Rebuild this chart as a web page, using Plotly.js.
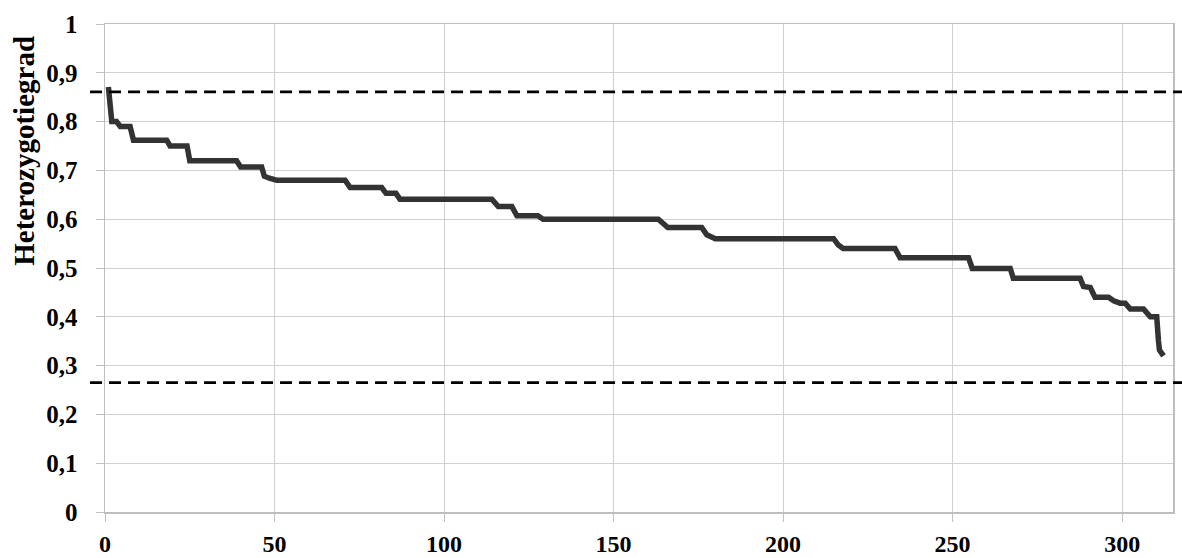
<!DOCTYPE html>
<html>
<head>
<meta charset="utf-8">
<script src="https://cdn.plot.ly/plotly-3.0.1.min.js"></script>
<style>
  html, body { margin: 0; padding: 0; background: #ffffff; }
  #chart { width: 1182px; height: 558px; }
</style>
</head>
<body>
<div id="chart"></div>
<script>
// Locus rank (x) and heterozygosity degree (y), vertices of the sorted curve
var rank = [1, 1.3, 1.6, 2, 3.4, 4.5, 7.4, 8.4, 18.2, 19.2, 24.2, 25.0, 38.8, 40.0, 46.2, 47.0, 48.5, 50.6,
            70.8, 72.3, 81.6, 82.9, 85.8, 87.0, 114.1, 116.0, 120.0, 121.5, 127.7, 129.2,
            163.2, 164.5, 166.0, 176.0, 177.5, 180.0, 214.9, 216.3, 217.7, 233.0, 234.5,
            254.7, 255.8, 267.0, 267.9, 287.6, 288.6, 290.6, 292.0, 296.0, 297.5, 299.4,
            300.9, 302.4, 306.3, 308.3, 310.2, 310.7, 311.0, 312.2];
var hetero = [0.871, 0.84, 0.815, 0.80, 0.80, 0.79, 0.79, 0.762, 0.762, 0.75, 0.75, 0.72, 0.72, 0.707, 0.707, 0.688, 0.684, 0.68,
              0.68, 0.665, 0.665, 0.653, 0.653, 0.641, 0.641, 0.626, 0.626, 0.607, 0.607, 0.60,
              0.60, 0.592, 0.583, 0.583, 0.568, 0.56, 0.56, 0.547, 0.54, 0.54, 0.521,
              0.521, 0.499, 0.499, 0.479, 0.479, 0.462, 0.46, 0.44, 0.44, 0.433, 0.428,
              0.428, 0.416, 0.416, 0.40, 0.40, 0.352, 0.332, 0.32];

// Dashed threshold levels
var thresholds = [0.861, 0.265];

// Tick labels
var xTickVals = [0, 50, 100, 150, 200, 250, 300];
var xTickText = ['0', '50', '100', '150', '200', '250', '300'];
var yTickVals = [0, 0.1, 0.2, 0.3, 0.4, 0.5, 0.6, 0.7, 0.8, 0.9, 1];
var yTickText = ['0', '0,1', '0,2', '0,3', '0,4', '0,5', '0,6', '0,7', '0,8', '0,9', '1'];
var yTitle = 'Heterozygotiegrad';

var fontFam = '"Liberation Serif", "Times New Roman", serif';

var traces = [{
  type: 'scatter',
  mode: 'lines',
  x: rank,
  y: hetero,
  line: { color: '#333333', width: 5.5 },
  hoverinfo: 'skip',
  showlegend: false
}];

var shapes = thresholds.map(function (v) {
  return {
    type: 'line', xref: 'paper', yref: 'y',
    x0: -0.014, x1: 1.01, y0: v, y1: v,
    line: { color: '#000000', width: 2.8, dash: '12px,7px' },
    layer: 'above'
  };
});

var layout = {
  width: 1182, height: 558,
  margin: { l: 105, r: 9, t: 24, b: 46, pad: 0 },
  paper_bgcolor: '#ffffff',
  plot_bgcolor: '#ffffff',
  showlegend: false,
  font: { family: fontFam, color: '#000000', size: 25 },
  xaxis: {
    range: [0, 315],
    tickmode: 'array', tickvals: xTickVals, ticktext: xTickText,
    ticks: 'outside', ticklen: 8, tickcolor: '#c0c0c0', tickwidth: 1,
    showgrid: true, gridcolor: '#d0d0d0', gridwidth: 1,
    showline: true, linecolor: '#bfbfbf', linewidth: 1.5, mirror: true,
    zeroline: false,
    tickfont: { family: fontFam, size: 24, color: '#000000', weight: 'bold' },
    ticklabelstandoff: 2
  },
  yaxis: {
    range: [0, 1],
    tickmode: 'array', tickvals: yTickVals, ticktext: yTickText,
    ticks: 'outside', ticklen: 8, tickcolor: '#c0c0c0', tickwidth: 1,
    showgrid: true, gridcolor: '#d0d0d0', gridwidth: 1,
    showline: true, linecolor: '#bfbfbf', linewidth: 1.5, mirror: true,
    zeroline: false,
    tickfont: { family: fontFam, size: 25, color: '#000000', weight: 'bold' },
    ticklabelstandoff: 13
  },
  annotations: [{
    text: yTitle, xref: 'paper', yref: 'paper',
    x: -0.076, y: 0.74, xanchor: 'center', yanchor: 'middle',
    textangle: -90, showarrow: false,
    font: { family: fontFam, size: 29, color: '#000000', weight: 'bold' }
  }],
  shapes: shapes
};

Plotly.newPlot('chart', traces, layout, { staticPlot: true, displayModeBar: false });
</script>
</body>
</html>
